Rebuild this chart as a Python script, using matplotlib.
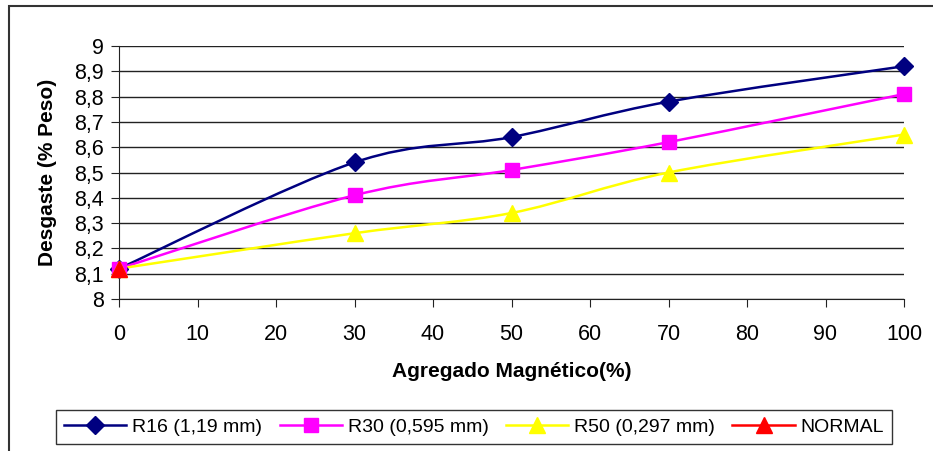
import matplotlib
matplotlib.use('Agg')
import matplotlib.pyplot as plt
from matplotlib.lines import Line2D
from matplotlib.patches import PathPatch, Rectangle
from matplotlib.path import Path

plt.rcParams['font.family'] = ['Liberation Sans', 'DejaVu Sans']

AGREGADO = [0, 30, 50, 70, 100]
R16 = [8.12, 8.54, 8.64, 8.78, 8.92]
R30 = [8.12, 8.41, 8.51, 8.62, 8.81]
R50 = [8.12, 8.26, 8.34, 8.50, 8.65]
NORMAL_X = [0]
NORMAL_Y = [8.12]
Y_TICKS = [8.0, 8.1, 8.2, 8.3, 8.4, 8.5, 8.6, 8.7, 8.8, 8.9, 9.0]
X_TICKS = list(range(0, 101, 10))


def smooth_path(xs, ys):
    """Excel-like smoothed line: Catmull-Rom segments as cubic Beziers."""
    pts = list(zip(xs, ys))
    verts = [pts[0]]
    codes = [Path.MOVETO]
    n = len(pts)
    for i in range(n - 1):
        p0 = pts[max(i - 1, 0)]
        p1 = pts[i]
        p2 = pts[i + 1]
        p3 = pts[min(i + 2, n - 1)]
        c1 = (p1[0] + (p2[0] - p0[0]) / 6, p1[1] + (p2[1] - p0[1]) / 6)
        c2 = (p2[0] - (p3[0] - p1[0]) / 6, p2[1] - (p3[1] - p1[1]) / 6)
        verts += [c1, c2, p2]
        codes += [Path.CURVE4] * 3
    return Path(verts, codes)


fig = plt.figure(figsize=(9.33, 4.51), dpi=100)
ax = fig.add_axes([119 / 933, 1 - 299 / 451, (904 - 119) / 933, (299 - 46) / 451])

series = [
    (R16, 'R16 (1,19 mm)', '#000080', 'D', 9),
    (R30, 'R30 (0,595 mm)', '#ff00ff', 's', 10),
    (R50, 'R50 (0,297 mm)', '#ffff00', '^', 11),
]
handles = []
for values, label, color, marker, size in series:
    ax.add_patch(PathPatch(smooth_path(AGREGADO, values), facecolor='none',
                           edgecolor=color, lw=1.8, zorder=3))
    ax.plot(AGREGADO, values, linestyle='none', marker=marker, ms=size,
            color=color, zorder=4, clip_on=False)
    handles.append(Line2D([], [], color=color, lw=1.8, marker=marker,
                          ms=size, label=label))

ax.plot(NORMAL_X, NORMAL_Y, linestyle='none', marker='^', ms=11,
        color='#ff0000', zorder=5, clip_on=False)
handles.append(Line2D([], [], color='#ff0000', lw=1.8, marker='^', ms=11,
                      label='NORMAL'))

ax.set_xlim(0, 100)
ax.set_ylim(8, 9)
ax.set_xticks(X_TICKS)
ax.set_yticks(Y_TICKS)
ax.set_yticklabels([f'{v:g}'.replace('.', ',') for v in Y_TICKS])
ax.grid(axis='y', color='#222222', lw=1)
ax.set_axisbelow(True)
for side in ('top', 'right'):
    ax.spines[side].set_visible(False)
ax.spines['left'].set_color('#222222')
ax.spines['bottom'].set_color('#222222')
ax.tick_params(axis='both', direction='out', length=6, color='#222222',
               labelsize=15.5)
ax.tick_params(axis='x', pad=12)
ax.tick_params(axis='y', pad=5)

ax.set_xlabel('Agregado Magnético(%)', fontsize=15, fontweight='bold',
              labelpad=12)
ax.set_ylabel('Desgaste (% Peso)', fontsize=15, fontweight='bold',
              labelpad=12)

fig.legend(handles=handles, loc='center', bbox_to_anchor=(474 / 933, 1 - 427 / 451),
           ncol=4, fontsize=14, frameon=True, fancybox=False,
           edgecolor='black', handlelength=3.2, columnspacing=0.9,
           handletextpad=0.3, borderpad=0.4)

fig.add_artist(Rectangle((9 / 933, -0.1), 2, 1.1 - 6 / 451,
                         transform=fig.transFigure, fill=False,
                         lw=1.5, edgecolor='#333333'))

fig.savefig('out.png', dpi=100)
